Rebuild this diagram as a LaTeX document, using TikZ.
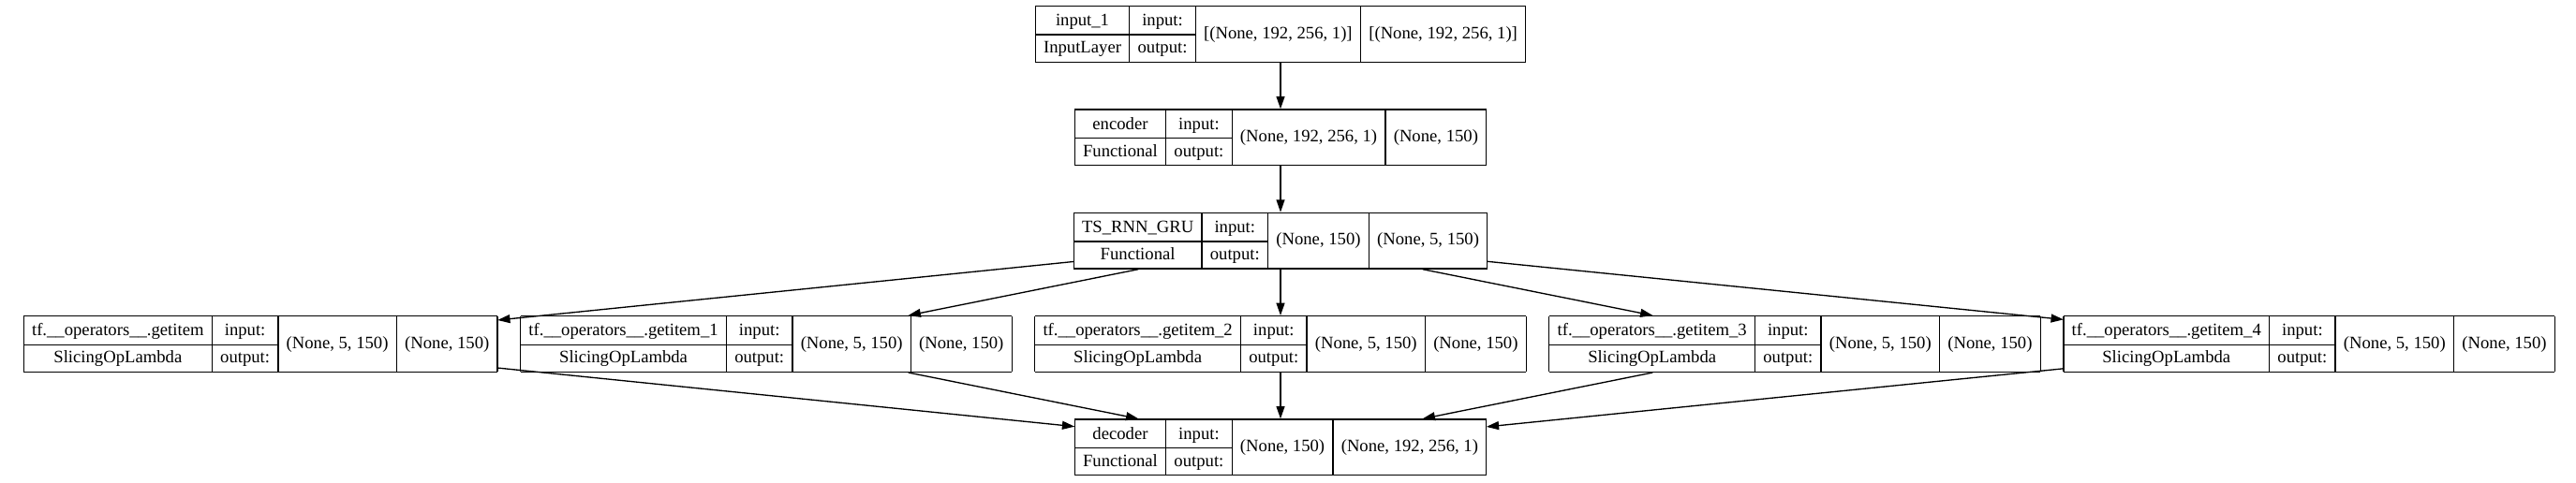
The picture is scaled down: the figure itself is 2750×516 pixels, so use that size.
\documentclass[tikz,border=0pt]{standalone}
\usepackage{fontspec}
\setmainfont{Liberation Serif}
\usepackage{multirow}
\usetikzlibrary{positioning,arrows.meta}

\setlength{\tabcolsep}{6.6pt}
\setlength{\arrayrulewidth}{1pt}
\renewcommand{\arraystretch}{1.287}

% one layer record: name, class, input shape, output shape
\newcommand{\layerrec}[4]{%
  \begin{tabular}{|c|c|c|c|}\hline
    #1 & input:  & \multirow{2}{*}{#3} & \multirow{2}{*}{#4}\\ \cline{1-2}
    #2 & output: & & \\ \hline
  \end{tabular}}

\tikzset{
  layer/.style = {inner sep=0pt, outer sep=0pt, font=\fontsize{14}{17}\selectfont},
  feed/.style  = {-{Triangle[length=10pt,width=6.7pt]}, line width=1pt},
}

\begin{document}
\begin{tikzpicture}[x=0.75pt, y=-0.75pt]
  \useasboundingbox (0,0) rectangle (2750,516);

  \node[layer] (inp) at (1367,36.5)
       {\layerrec{input\_1}{InputLayer}{[(None, 192, 256, 1)]}{[(None, 192, 256, 1)]}};
  \node[layer, below=37pt of inp] (enc)
       {\layerrec{encoder}{Functional}{(None, 192, 256, 1)}{(None, 150)}};
  \node[layer, below=37pt of enc] (gru)
       {\layerrec{TS\_RNN\_GRU}{Functional}{(None, 150)}{(None, 5, 150)}};

  % the five slices
  \node[layer, below=37pt of gru] (sl2)
       {\layerrec{tf.\_\_operators\_\_.getitem\_2}{SlicingOpLambda}{(None, 5, 150)}{(None, 150)}};
  \node[layer, left=18.4pt of sl2] (sl1)
       {\layerrec{tf.\_\_operators\_\_.getitem\_1}{SlicingOpLambda}{(None, 5, 150)}{(None, 150)}};
  \node[layer, left=18.4pt of sl1] (sl0)
       {\layerrec{tf.\_\_operators\_\_.getitem}{SlicingOpLambda}{(None, 5, 150)}{(None, 150)}};
  \node[layer, right=18.4pt of sl2] (sl3)
       {\layerrec{tf.\_\_operators\_\_.getitem\_3}{SlicingOpLambda}{(None, 5, 150)}{(None, 150)}};
  \node[layer, right=18.4pt of sl3] (sl4)
       {\layerrec{tf.\_\_operators\_\_.getitem\_4}{SlicingOpLambda}{(None, 5, 150)}{(None, 150)}};

  \node[layer, below=37pt of sl2] (dec)
       {\layerrec{decoder}{Functional}{(None, 150)}{(None, 192, 256, 1)}};

  \draw[feed] (inp) -- (enc);
  \draw[feed] (enc) -- (gru);
  \foreach \i in {0,...,4} {
    \draw[feed] (gru) -- (sl\i);
    \draw[feed] (sl\i) -- (dec);
  }
\end{tikzpicture}
\end{document}
